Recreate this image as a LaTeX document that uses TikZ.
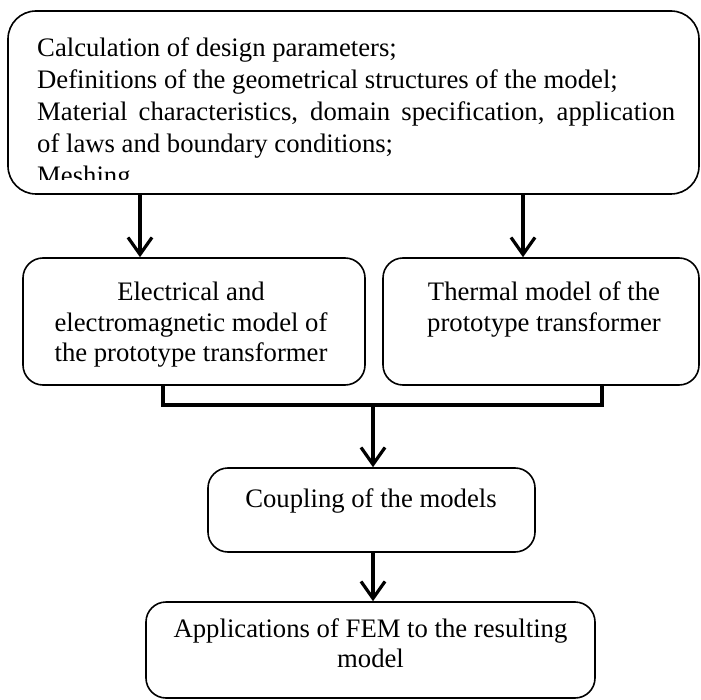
\documentclass[tikz,border=0pt]{standalone}
\usepackage{fontspec}
\setmainfont{Liberation Serif}
\usetikzlibrary{arrows.meta}
\tikzset{
  box/.style={draw, line width=1.6pt, rounded corners=20pt, inner sep=0pt},
  conn/.style={line width=3.2pt},
  arr/.style={conn, -{Straight Barb[length=17pt,width=24pt]}},
  txt/.style={inner sep=0pt, font=\fontsize{26.7pt}{30pt}\selectfont, anchor=base},
  txtl/.style={txt, anchor=base west},
}
\begin{document}
\begin{tikzpicture}[x=1pt,y=-1pt]
\useasboundingbox (0,0) rectangle (701,700);
% boxes
\node[box, rounded corners=28pt, minimum width=691pt, minimum height=183pt] (top) at (353.5,102.5) {};
\node[box, minimum width=342pt, minimum height=127pt] (lb) at (194,321.5) {};
\node[box, minimum width=316pt, minimum height=127pt] (rb) at (541,321.5) {};
\node[box, minimum width=327pt, minimum height=84pt] (cp) at (371.5,510) {};
\node[box, minimum width=449pt, minimum height=96pt] (bt) at (370.5,650) {};
% top text
\node[txtl] (t1) at (37,57) {Calculation of design parameters;};
\node[txtl] (t2) at (37,89) {Definitions of the geometrical structures of the model;};
\node[txtl] (t3) at (37,121) {\makebox[638pt][s]{Material characteristics, domain specification, application}};
\node[txtl] (t4) at (37,153) {of laws and boundary conditions;};
\begin{scope}
  \clip (0,0) rectangle (701,180);
  \node[txtl] (t5) at (37,185) {Meshing};
\end{scope}
% middle texts
\node[txt] (l1) at (191,301) {Electrical and};
\node[txt] (l2) at (191,331) {electromagnetic model of};
\node[txt] (l3) at (191,361) {the prototype transformer};
\node[txt] (r1) at (544,301) {Thermal model of the};
\node[txt] (r2) at (544,331) {prototype transformer};
\node[txt] (c1) at (371,507) {Coupling of the models};
\node[txt] (b1) at (370.5,637) {Applications of FEM to the resulting};
\node[txt] (b2) at (370.5,667) {model};
% connectors
\coordinate (xl) at (140,0);
\coordinate (xr) at (523,0);
\coordinate (jl) at (163,405);
\coordinate (jr) at (602,405);
\coordinate (jc) at (373,405);
\draw[arr] (top.south -| xl) -- (lb.north -| xl);
\draw[arr] (top.south -| xr) -- (rb.north -| xr);
\draw[conn] (lb.south -| jl) -- (jl) -- (jr) -- (rb.south -| jr);
\draw[arr] (jc) -- (cp.north -| jc);
\draw[arr] (cp.south -| jc) -- (bt.north -| jc);
\end{tikzpicture}
\end{document}
